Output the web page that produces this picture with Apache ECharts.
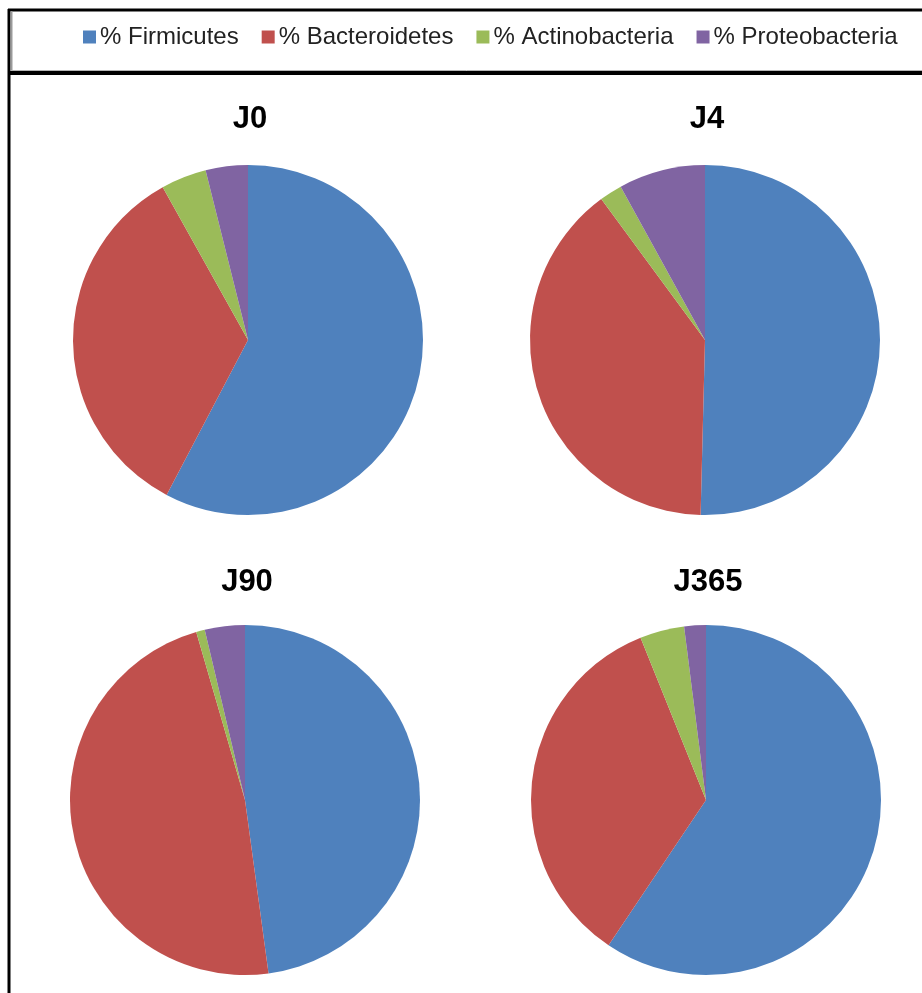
<!DOCTYPE html>
<html>
<head>
<meta charset="utf-8">
<title>Phyla composition</title>
<script src="https://cdn.jsdelivr.net/npm/echarts@6/dist/echarts.min.js"></script>
<style>
  html, body { margin: 0; padding: 0; background: #ffffff; }
  #chart { width: 922px; height: 993px; }
</style>
</head>
<body>
<div id="chart"></div>
<script>
// Phylum names shown in the legend
const phyla = ['% Firmicutes', '% Bacteroidetes', '% Actinobacteria', '% Proteobacteria'];
// Sampling days, one pie each
const days = ['J0', 'J4', 'J90', 'J365'];
// Relative abundance (%) per day
const firmicutes     = [57.7, 50.4, 47.9, 59.4];
const bacteroidetes  = [34.2, 39.5, 47.7, 34.5];
const actinobacteria = [4.2, 2.1, 0.8, 4.1];
const proteobacteria = [3.9, 8.0, 3.7, 2.0];

const palette = ['#4F81BD', '#C0504D', '#9BBB59', '#8064A2'];

// Layout of the 2x2 grid of pies
const centers = [[248, 340], [705, 340], [245, 800], [706, 800]];
const titlePos = [[245, 99], [702, 99], [242, 562], [703, 562]];
const radius = 175;

const chart = echarts.init(document.getElementById('chart'), null, { renderer: 'canvas' });

const series = days.map((d, i) => ({
  type: 'pie',
  name: d,
  center: centers[i],
  radius: [0, radius],
  startAngle: 90,
  clockwise: true,
  animation: false,
  silent: true,
  label: { show: false },
  labelLine: { show: false },
  emphasis: { disabled: true },
  itemStyle: { borderWidth: 0 },
  data: [
    { name: phyla[0], value: firmicutes[i] },
    { name: phyla[1], value: bacteroidetes[i] },
    { name: phyla[2], value: actinobacteria[i] },
    { name: phyla[3], value: proteobacteria[i] }
  ]
}));

const titles = days.map((d, i) => ({
  text: d,
  left: titlePos[i][0],
  top: titlePos[i][1],
  textAlign: 'center',
  textStyle: {
    fontFamily: 'Liberation Sans',
    fontWeight: 'bold',
    fontSize: 31,
    color: '#000'
  }
}));

chart.setOption({
  backgroundColor: '#ffffff',
  color: palette,
  animation: false,
  title: titles,
  legend: {
    data: phyla,
    left: 78,
    top: 20,
    icon: 'rect',
    itemWidth: 13,
    itemHeight: 13,
    itemGap: 23,
    selectedMode: false,
    textStyle: {
      fontFamily: 'Liberation Sans',
      fontSize: 24,
      color: '#222',
      padding: [0, 0, 0, -1]
    }
  },
  series: series,
  graphic: [
    // frame around legend and plot area
    { type: 'line', shape: { x1: 8, y1: 10, x2: 922, y2: 10 }, style: { stroke: '#000', lineWidth: 3 } },
    { type: 'line', shape: { x1: 9, y1: 9, x2: 9, y2: 993 }, style: { stroke: '#000', lineWidth: 3 } },
    { type: 'line', shape: { x1: 8, y1: 73, x2: 922, y2: 73 }, style: { stroke: '#000', lineWidth: 4 } },
    { type: 'line', shape: { x1: 11.5, y1: 11, x2: 11.5, y2: 71 }, style: { stroke: '#9a9a9a', lineWidth: 2 } },
    { type: 'line', shape: { x1: 11, y1: 70.5, x2: 922, y2: 70.5 }, style: { stroke: '#b5b5b5', lineWidth: 1 } }
  ]
});
</script>
</body>
</html>
